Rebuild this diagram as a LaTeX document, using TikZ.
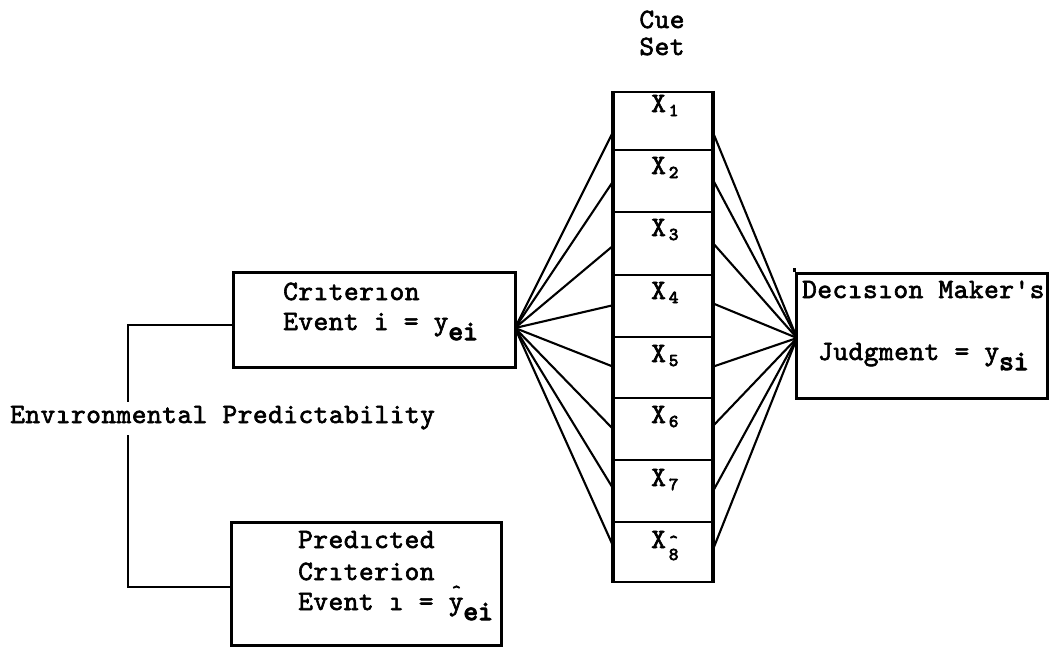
\documentclass[tikz,border=0pt]{standalone}
\usepackage{fontspec}
\newfontfamily\tw{lmmono10-regular.otf}[FakeBold=2.2, LetterSpace=1.8]
\newfontface\twbold{lmmono10-regular.otf}[FakeBold=4]
\begin{document}
\begin{tikzpicture}[x=1pt,y=-1pt,
  txt/.style={font=\tw\fontsize{28}{32}\selectfont, inner sep=0pt, anchor=base west},
  frame/.style={draw, line width=3pt, inner sep=0pt},
  cell/.style={draw, line width=2.4pt, minimum width=98pt, inner sep=0pt},
  fan/.style={line width=2.1pt},
  link/.style={line width=2pt},
]
\useasboundingbox (0,0) rectangle (1061,649);
\newcommand{\sub}[1]{\raisebox{-10pt}{\twbold #1}}
\newcommand{\cuesub}[1]{\hspace{3pt}\raisebox{-4pt}{\twbold\fontsize{18}{18}\selectfont #1}}
\newcommand{\hatmark}[2]{\rlap{\hspace{#1}\raisebox{#2}{\twbold\fontsize{18}{18}\selectfont\textasciicircum}}}

% header of the cue column
\node[txt, anchor=base] (cue) at (662,28) {Cue};
\node[txt, anchor=base] (set) at (662,55) {Set};

% cue cells
\foreach \i/\t/\b in {1/92/150, 2/150/212, 3/212/275, 4/275/337,
                      5/337/398, 6/398/460, 7/460/522, 8/522/582} {
  \pgfmathsetmacro{\ym}{(\t+\b)/2}
  \pgfmathsetmacro{\hh}{\b-\t}
  \node[cell, minimum height=\hh pt] (c\i) at (663,\ym) {};
}
\draw[line width=3.4pt] (c1.north west) -- (c8.south west);
\draw[line width=3.4pt] (c1.north east) -- (c8.south east);

% cue labels
\node[txt] (x1) at (651,112) {X\cuesub{1}};
\node[txt] (x2) at (651,174) {X\cuesub{2}};
\node[txt] (x3) at (651,236) {X\cuesub{3}};
\node[txt] (x4) at (651,299) {X\cuesub{4}};
\node[txt] (x5) at (651,362) {X\cuesub{5}};
\node[txt] (x6) at (651,423) {X\cuesub{6}};
\node[txt] (x7) at (651,486) {X\cuesub{7}};
\node[txt] (x8) at (651,548) {X\hspace{3pt}\hatmark{0pt}{1pt}\raisebox{-12pt}{\twbold\fontsize{18}{18}\selectfont 8}};

% criterion box
\node[frame, minimum width=282pt, minimum height=95pt] (crit) at (374,319.5) {};
\node[txt] (crit1) at (283,300) {Crıterıon};
\node[txt] (crit2) at (283,330) {Event i = y\sub{ei}};

% predicted criterion box
\node[frame, minimum width=270pt, minimum height=123pt] (pred) at (366,583.5) {};
\node[txt] (pred1) at (298,548) {Predıcted};
\node[txt] (pred2) at (298,580) {Crıterion};
\node[txt] (pred3) at (298,610) {Event ı = \hatmark{3pt}{13pt}y\sub{ei}};

% decision maker box
\node[frame, minimum width=251pt, minimum height=125pt] (dec) at (921.5,335.5) {};
\draw[frame] (dec.north west) -- ++(0,-4);
\node[txt] (dec1) at (802,298) {Decısıon Maker's};
\node[txt] (dec2) at (818,360) {Judgment = y\sub{si}};

% environmental predictability bracket
\node[txt] (env) at (10,423) {Envıronmental Predictability};
\coordinate (bt) at (128,325);
\coordinate (bg1) at (128,402);
\coordinate (bg2) at (128,435);
\coordinate (bb) at (128,587);
\draw[link] (crit.west |- bt) -- (bt) -- (bg1);
\draw[link] (bg2) -- (bb) -- (pred.west |- bb);

% fan from the criterion to the cues
\coordinate (hubL) at (515,328);
\foreach \i/\y in {1/130, 2/180, 3/245, 4/305, 5/367, 6/430, 7/490, 8/548}
  \coordinate (L\i) at (614,\y);
\foreach \i in {1,...,8}
  \draw[fan] (hubL) -- (L\i);

% fan from the cues to the judgment
\coordinate (hubR) at (797,338);
\foreach \i/\y in {1/130, 2/178, 3/242, 4/303, 5/367, 6/427, 7/493, 8/552}
  \coordinate (R\i) at (712,\y);
\foreach \i in {1,...,8}
  \draw[fan] (R\i) -- (hubR);
\end{tikzpicture}
\end{document}
